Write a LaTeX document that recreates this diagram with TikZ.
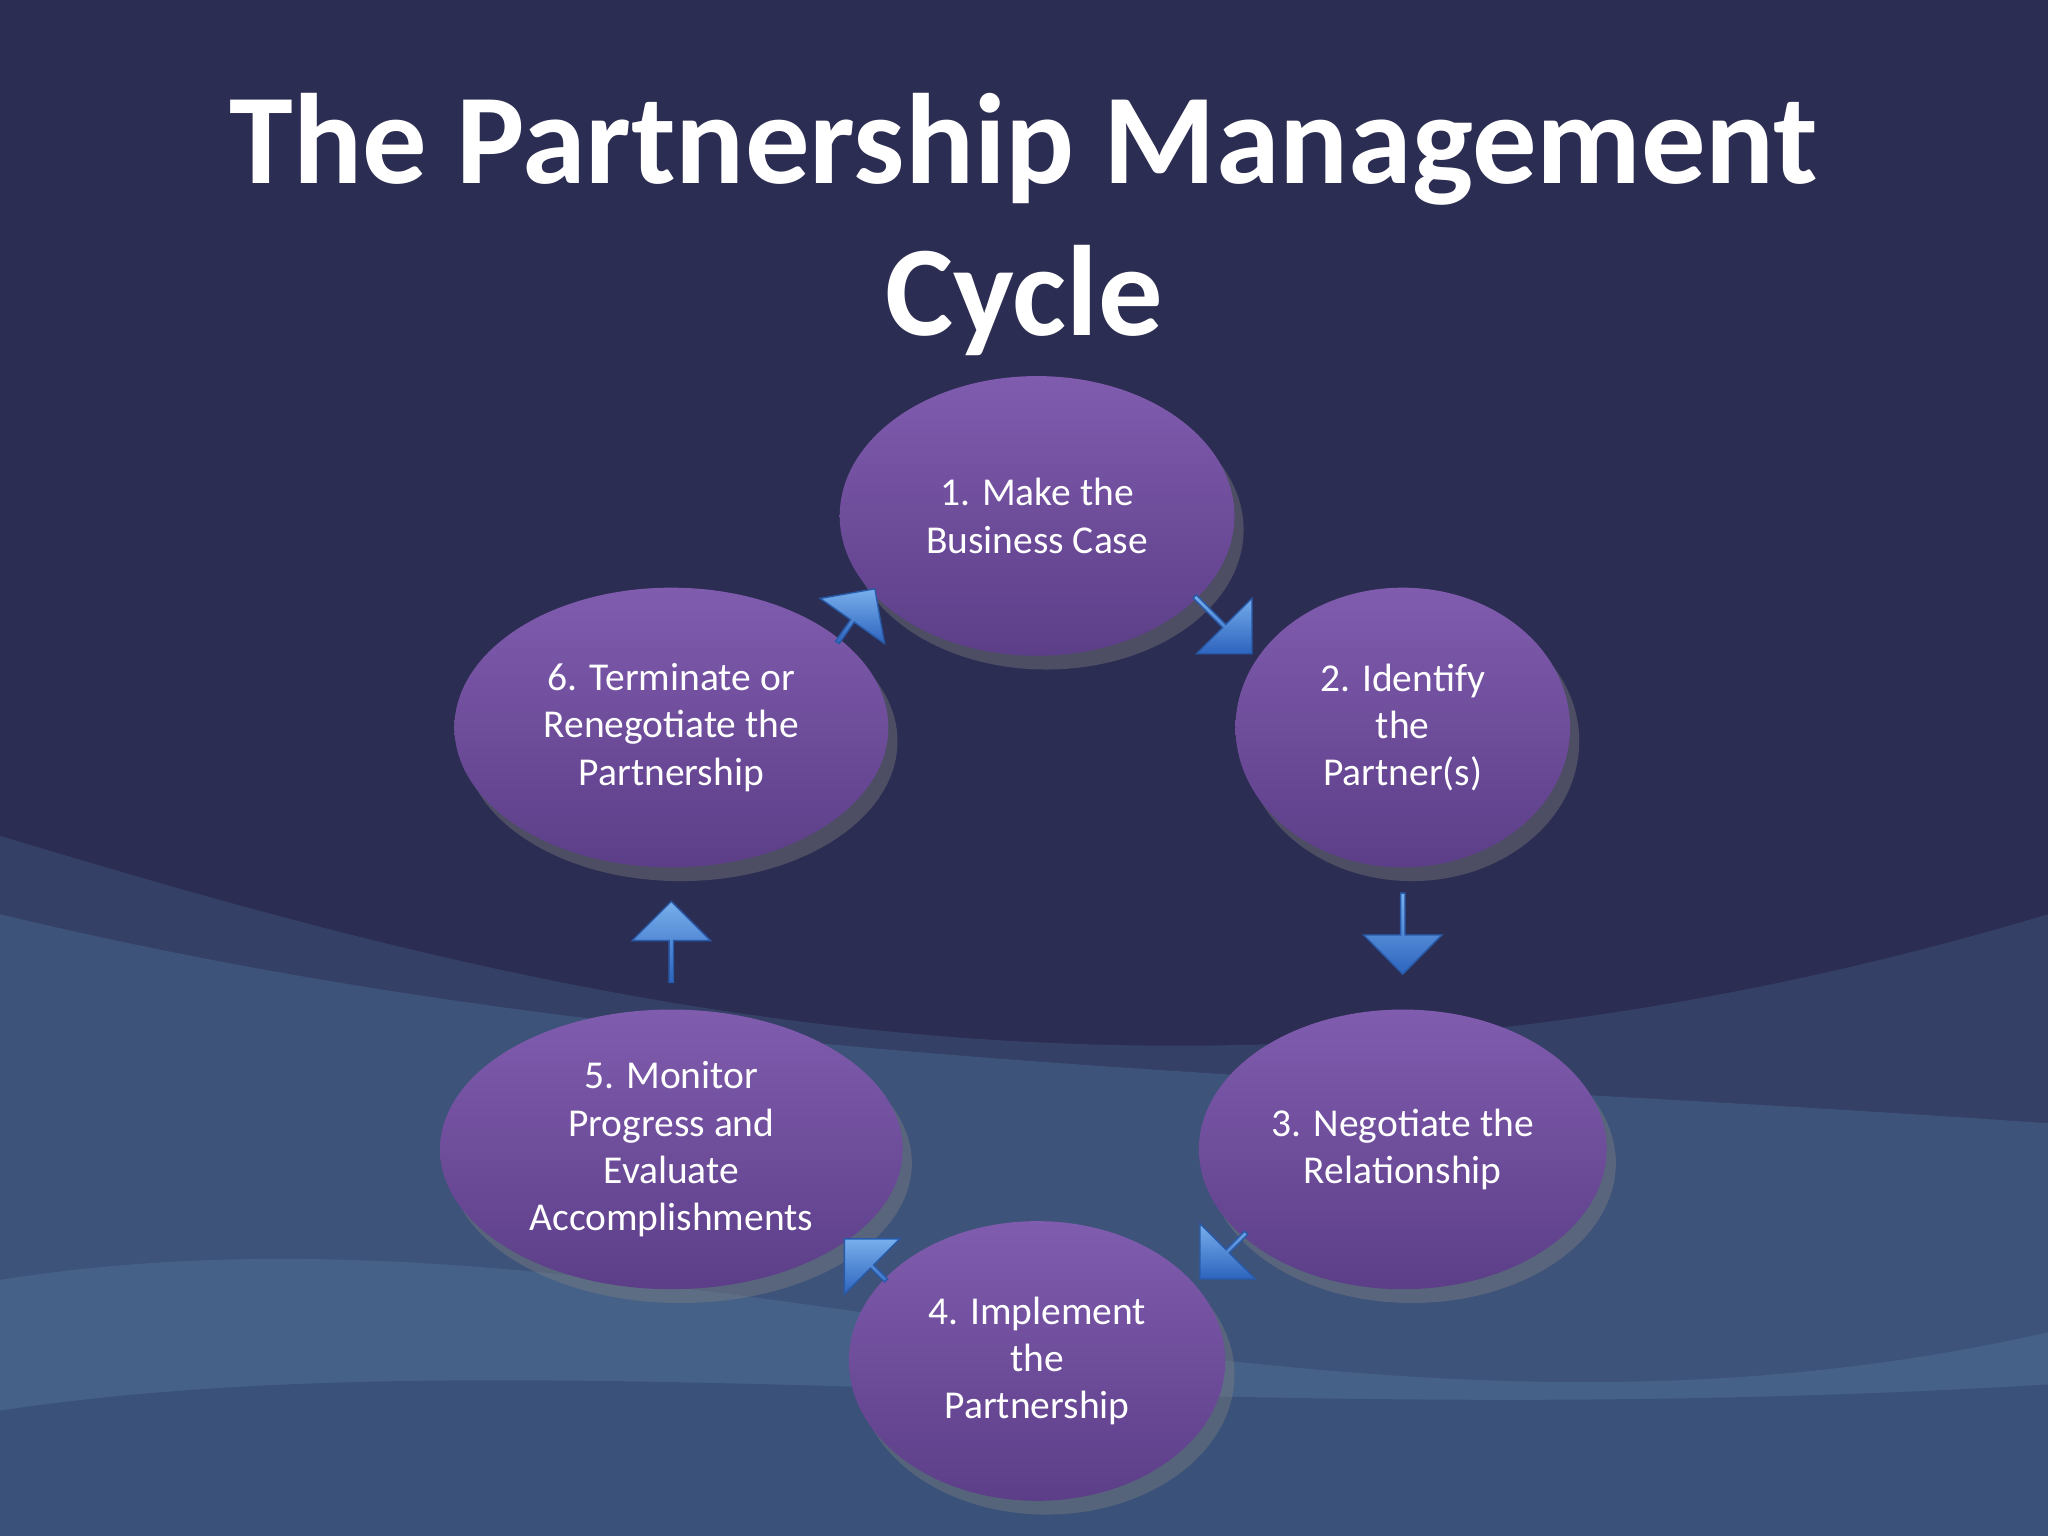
\documentclass[tikz,border=0pt]{standalone}
\usepackage{fontspec}
\setmainfont{Carlito}
\usetikzlibrary{shapes.geometric,shapes.arrows,shadows}
\definecolor{bg}{RGB}{44,45,82}
\definecolor{ptop}{RGB}{128,92,174}
\definecolor{pbot}{RGB}{92,62,136}
\definecolor{atop}{RGB}{120,175,235}
\definecolor{abot}{RGB}{45,100,190}
\definecolor{adraw}{RGB}{40,90,170}
\definecolor{wa}{RGB}{70,100,140}
\definecolor{wb}{RGB}{80,120,160}
\definecolor{wc}{RGB}{90,130,170}
\definecolor{wd}{RGB}{40,60,100}
\begin{document}
\begin{tikzpicture}[x=0.01cm,y=-0.01cm,
  stage/.style={ellipse,inner sep=0pt,top color=ptop,bottom color=pbot,
    drop shadow={opacity=0.4,shadow xshift=2pt,shadow yshift=-3pt},
    text=white,align=center,font=\fontsize{8.6pt}{10.3pt}\selectfont},
  blk/.style={single arrow,draw=adraw,line width=0.3pt,
    top color=atop,bottom color=abot,
    minimum height=0.62cm,minimum width=0.6cm,single arrow head extend=0.09cm,inner sep=0pt}]
\fill[bg] (0,0) rectangle (1568,1176);
\useasboundingbox (0,0) rectangle (1568,1176);
\fill[wa,opacity=0.35] (0,640) .. controls (400,760) and (900,900) .. (1568,700) -- (1568,1176) -- (0,1176) -- cycle;
\fill[wb,opacity=0.35] (0,700) .. controls (500,820) and (1000,820) .. (1568,860) -- (1568,1176) -- (0,1176) -- cycle;
\fill[wc,opacity=0.3] (0,980) .. controls (500,900) and (1000,1150) .. (1568,1020) -- (1568,1176) -- (0,1176) -- cycle;
\fill[wd,opacity=0.4] (0,1080) .. controls (400,1020) and (900,1100) .. (1568,1060) -- (1568,1176) -- (0,1176) -- cycle;
\node[text=white,font=\bfseries\fontsize{28pt}{33pt}\selectfont,align=center] (title) at (784,172) {The Partnership Management\\Cycle};
\node[stage,minimum width=3.02cm,minimum height=2.14cm] (s1) at (794,395) {1. Make the\\Business Case};
\node[stage,minimum width=2.56cm,minimum height=2.14cm] (s2) at (1074,557) {2. Identify\\the\\Partner(s)};
\node[stage,minimum width=3.12cm,minimum height=2.14cm] (s3) at (1074,880) {3. Negotiate the\\Relationship};
\node[stage,minimum width=2.88cm,minimum height=2.14cm] (s4) at (794,1042) {4. Implement\\the\\Partnership};
\node[stage,minimum width=3.54cm,minimum height=2.14cm] (s5) at (514,880) {5. Monitor\\Progress and\\Evaluate\\Accomplishments};
\node[stage,minimum width=3.32cm,minimum height=2.14cm] (s6) at (514,557) {6. Terminate or\\Renegotiate the\\Partnership};
\node[blk,rotate=-45] (a12) at (936,478) {};
\node[blk,rotate=-90] (a23) at (1074,714) {};
\node[blk,rotate=-135,minimum height=0.5cm] (a34) at (937,961) {};
\node[blk,rotate=135,minimum height=0.45cm] (a45) at (663,965) {};
\node[blk,rotate=90] (a56) at (514,722) {};
\node[blk,rotate=55,minimum height=0.5cm] (a61) at (655,472) {};
\end{tikzpicture}
\end{document}
